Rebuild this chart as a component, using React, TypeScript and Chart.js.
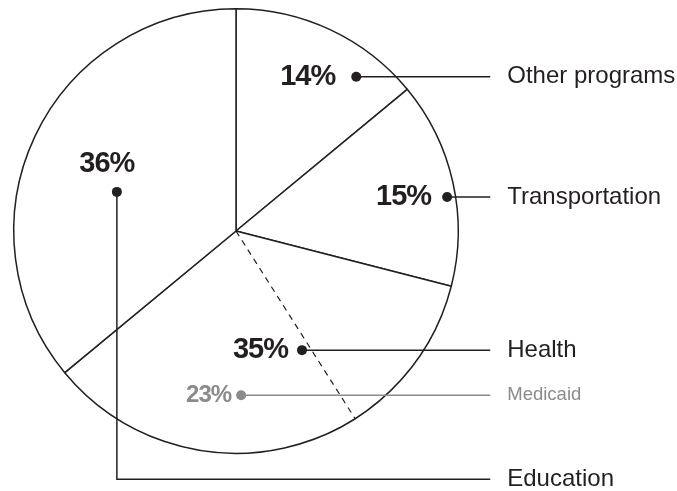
import React, { useEffect, useRef } from "react";
import { Chart, registerables } from "chart.js";

Chart.register(...registerables);

// ---- data ----
const categories = ["Other programs", "Transportation", "Health", "Education"];
const shares = [14, 15, 35, 36];
const subCategory = "Medicaid";
const subParentIndex = 2; // Health
const subShare = 23;

// ---- callout layout (relative to pie centre, in units of radius; text offsets in px) ----
const calloutDots: [number, number][] = [
  [0.541, -0.694],
  [0.95, -0.153],
  [0.297, 0.536],
  [-0.536, -0.176],
];
const calloutText: { dx: number; dy: number; align: CanvasTextAlign }[] = [
  { dx: -21, dy: 0, align: "right" },
  { dx: -16, dy: 0, align: "right" },
  { dx: -14, dy: 0, align: "right" },
  { dx: -10, dy: -28, align: "center" },
];
const subDot: [number, number] = [0.023, 0.739];
const educationElbowY = 1.117;
const lineEndX = 1.144;

const INK = "#231f20";
const GREY = "#8b8b8b";

const calloutPlugin = {
  id: "callouts",
  afterDatasetsDraw(chart: any) {
    const ctx: CanvasRenderingContext2D = chart.ctx;
    const meta = chart.getDatasetMeta(0);
    const arcs = meta.data;
    if (!arcs.length) return;
    const cx = arcs[0].x;
    const cy = arcs[0].y;
    const R = arcs[0].outerRadius;

    // dashed split line for sub-category
    const parent = arcs[subParentIndex];
    const pv = shares[subParentIndex];
    const ang = parent.startAngle + ((pv - subShare) / pv) * (parent.endAngle - parent.startAngle);
    ctx.save();
    ctx.strokeStyle = INK;
    ctx.lineWidth = 1.2;
    ctx.setLineDash([6, 5]);
    ctx.beginPath();
    ctx.moveTo(cx, cy);
    ctx.lineTo(cx + Math.cos(ang) * R, cy + Math.sin(ang) * R);
    ctx.stroke();
    ctx.setLineDash([]);

    const xEnd = cx + lineEndX * R;
    const xLabel = xEnd + 17;

    const drawCallout = (
      dx: number,
      dy: number,
      pct: string,
      label: string,
      color: string,
      pctFont: string,
      labelFont: string,
      t: { dx: number; dy: number; align: CanvasTextAlign },
      elbow?: number
    ) => {
      const px = cx + dx * R;
      const py = cy + dy * R;
      const rowY = elbow !== undefined ? cy + elbow * R : py;
      ctx.strokeStyle = color;
      ctx.lineWidth = 1.5;
      ctx.beginPath();
      ctx.moveTo(px, py);
      if (elbow !== undefined) ctx.lineTo(px, rowY);
      ctx.lineTo(xEnd, rowY);
      ctx.stroke();
      ctx.fillStyle = color;
      ctx.beginPath();
      ctx.arc(px, py, 5, 0, Math.PI * 2);
      ctx.fill();
      ctx.textBaseline = "middle";
      ctx.font = pctFont;
      ctx.textAlign = t.align;
      (ctx as any).letterSpacing = "-1px";
      ctx.fillText(pct, px + t.dx, py + t.dy);
      (ctx as any).letterSpacing = "0px";
      ctx.font = labelFont;
      ctx.textAlign = "left";
      ctx.fillText(label, xLabel, rowY);
    };

    const bigPct = "bold 29px 'Liberation Sans', Arial, sans-serif";
    const bigLbl = "24px 'Liberation Sans', Arial, sans-serif";
    categories.forEach((c, i) => {
      const isEdu = i === 3;
      drawCallout(
        calloutDots[i][0],
        calloutDots[i][1],
        `${shares[i]}%`,
        c,
        INK,
        bigPct,
        bigLbl,
        calloutText[i],
        isEdu ? educationElbowY : undefined
      );
    });
    drawCallout(
      subDot[0],
      subDot[1],
      `${subShare}%`,
      subCategory,
      GREY,
      "bold 24px 'Liberation Sans', Arial, sans-serif",
      "18.5px 'Liberation Sans', Arial, sans-serif",
      { dx: -10, dy: 0, align: "right" }
    );
    ctx.restore();
  },
};

export default function App() {
  const ref = useRef<HTMLCanvasElement>(null);
  useEffect(() => {
    if (!ref.current) return;
    const chart = new Chart(ref.current, {
      type: "pie",
      data: {
        labels: categories,
        datasets: [
          {
            data: shares,
            backgroundColor: "#ffffff",
            borderColor: INK,
            borderWidth: 1.5,
          },
        ],
      },
      options: {
        responsive: false,
        animation: false,
        layout: { padding: { left: 13, top: 8, right: 218, bottom: 37 } },
        plugins: { legend: { display: false }, tooltip: { enabled: false } },
      },
      plugins: [calloutPlugin],
    });
    return () => chart.destroy();
  }, []);
  return (
    <div style={{ position: "absolute", left: 0, top: 0, width: 677, height: 491, background: "#fff" }}>
      <canvas ref={ref} width={677} height={491} style={{ display: "block" }} />
    </div>
  );
}
